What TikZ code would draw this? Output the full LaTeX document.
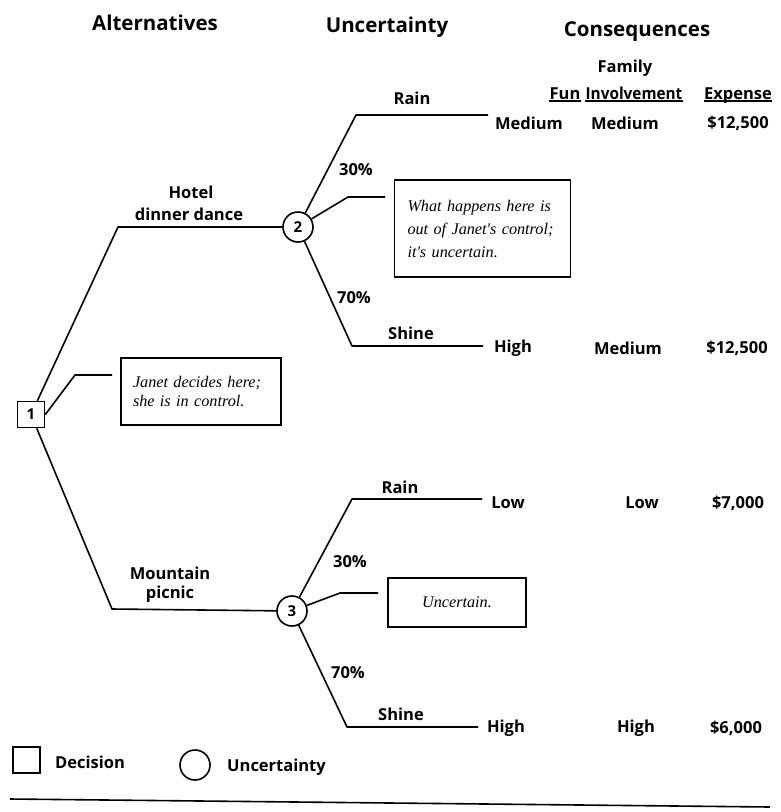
\documentclass[tikz,border=0pt]{standalone}
\usepackage{fontspec}
\setmainfont{Open Sans}
\newfontfamily\callfont{Liberation Serif}
\begin{document}
\begin{tikzpicture}[x=1pt,y=-1pt]
\tikzset{
  head/.style={font=\bfseries\fontsize{20.5}{24}\selectfont, inner sep=0},
  lab/.style={font=\bfseries\fontsize{16.5}{20}\selectfont, inner sep=0},
  callbox/.style={draw, line width=1.4pt, font=\callfont\itshape\fontsize{16.2}{23}\selectfont, align=left, inner ysep=0, anchor=center},
  edge/.style={line width=1.6pt, line join=round},
  decbox/.style={draw, rectangle, line width=1.6pt, minimum width=27pt, minimum height=26pt, inner sep=0, font=\bfseries\fontsize{15}{18}\selectfont},
  uncnode/.style={draw, circle, line width=1.6pt, minimum size=30pt, inner sep=0, font=\bfseries\fontsize{15}{18}\selectfont},
  uline/.style={line width=1.2pt},
}
\useasboundingbox (0,0) rectangle (781,812);

% headers
\node[head] (hA) at (155,23) {Alternatives};
\node[head] (hU) at (387,27) {Uncertainty};
\node[head] (hC) at (637,32) {Consequences};
\node[lab] (hFam) at (625,68) {Family};
\node[lab, anchor=base] (hFun) at (565,99) {Fun};
\node[lab, anchor=base, xscale=0.93] (hInv) at (634,99) {Involvement};
\node[lab, anchor=base] (hExp) at (738,99) {Expense};
\foreach \n in {hFun,hInv,hExp}{
  \draw[uline] ([yshift=-2pt]\n.base west) -- ([yshift=-2pt]\n.base east);
}

% decision and uncertainty nodes
\node[decbox] (d1) at (31,414.5) {1};
\node[uncnode] (c2) at (298,227) {2};
\node[uncnode] (c3) at (292,611) {3};

% kinks and free ends
\coordinate (k1) at (118,227);
\coordinate (k4) at (112,609);
\coordinate (k2) at (356,115);
\coordinate (e2) at (488,115);
\coordinate (k3) at (352,346);
\coordinate (e3) at (483,346);
\coordinate (k5) at (352,499);
\coordinate (e5) at (482,499);
\coordinate (k6) at (347,727);
\coordinate (e6) at (478,727);

% tree edges
\draw[edge] (d1) -- (k1) -- (c2);
\draw[edge] (d1) -- (k4) -- (c3);
\draw[edge] (c2) -- (k2) -- (e2);
\draw[edge] (c2) -- (k3) -- (e3);
\draw[edge] (c3) -- (k5) -- (e5);
\draw[edge] (c3) -- (k6) -- (e6);

% branch labels
\node[lab] (lHotel) at (191,192) {Hotel};
\node[lab] (lDinner) at (189,214) {dinner dance};
\node[lab] (lMount) at (170,573) {Mountain};
\node[lab] (lPicnic) at (170,594) {picnic};
\node[lab] (lRain1) at (412,98) {Rain};
\node[lab] (lShine1) at (411,333) {Shine};
\node[lab] (lRain2) at (400,487) {Rain};
\node[lab] (lShine2) at (401,714) {Shine};
\node[lab] (p1) at (356,170) {30\%};
\node[lab] (p2) at (354,298) {70\%};
\node[lab] (p3) at (350,562) {30\%};
\node[lab] (p4) at (348,673) {70\%};

% consequences
\node[lab] (r1a) at (529,123) {Medium};
\node[lab] (r1b) at (625,123) {Medium};
\node[lab] (r1c) at (738,123) {\$12,500};
\node[lab] (r2a) at (513,348) {High};
\node[lab] (r2b) at (628,348) {Medium};
\node[lab] (r2c) at (737,348) {\$12,500};
\node[lab] (r3a) at (508,503) {Low};
\node[lab] (r3b) at (642,503) {Low};
\node[lab] (r3c) at (738,503) {\$7,000};
\node[lab] (r4a) at (506,728) {High};
\node[lab] (r4b) at (636,728) {High};
\node[lab] (r4c) at (736,728) {\$6,000};

% callouts
\node[callbox, text width=150pt, inner xsep=13pt, minimum height=97pt] (b1) at (482.5,228.5)
  {What happens here is\\out of Janet's control;\\it's uncertain.};
\node[callbox, text width=136pt, inner xsep=12pt, minimum height=67pt, font=\callfont\itshape\fontsize{16.2}{19.5}\selectfont] (b2) at (201,391.5)
  {Janet decides here;\\she is in control.};
\node[callbox, minimum width=138pt, minimum height=49pt, align=center] (b3) at (457,602.5)
  {Uncertain.};

\coordinate (q1) at (348,197);
\coordinate (f1) at (385,197);
\coordinate (q2) at (75,375);
\coordinate (f2) at (112,375);
\coordinate (q3) at (340,593);
\coordinate (f3) at (378,593);
\draw[edge] (c2) -- (q1) -- (f1);
\draw[edge] (d1.east) -- (q2) -- (f2);
\draw[edge] (c3) -- (q3) -- (f3);

% legend
\node[decbox] (ld) at (26.5,760) {};
\node[lab, anchor=west] (ldt) at (55,762) {Decision};
\node[uncnode] (lc) at (195,765) {};
\node[lab, anchor=west] (lct) at (227,767) {Uncertainty};

% bottom rule
\draw[line width=1.6pt] (10,799) -- (770,807);
\end{tikzpicture}
\end{document}
